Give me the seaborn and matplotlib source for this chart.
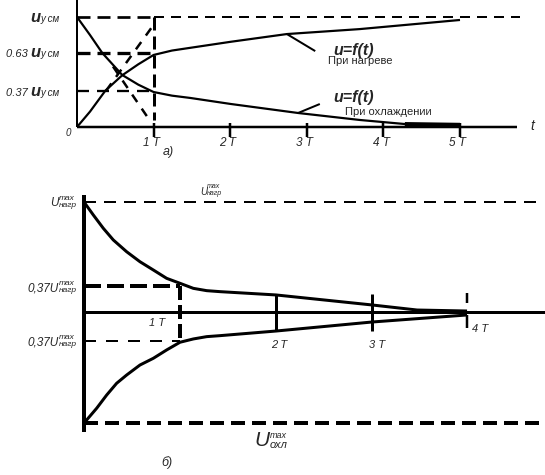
import matplotlib
matplotlib.use("Agg")
import matplotlib.pyplot as plt
import seaborn as sns
from matplotlib.offsetbox import TextArea, HPacker, VPacker, AnnotationBbox

# a) heating / cooling, time in T, value in U_ycm
heat_t = [0, 0.17, 0.37, 0.59, 0.8, 1.0, 1.24, 1.48, 2.01, 2.74, 3.69, 5.0]
heat_u = [0, 0.14, 0.33, 0.47, 0.57, 0.655, 0.695, 0.72, 0.775, 0.845, 0.89, 0.973]
cool_t = [0, 0.17, 0.33, 0.59, 0.8, 1.0, 1.24, 1.48, 2.01, 2.89, 3.69, 4.28, 5.0]
cool_u = [1.0, 0.836, 0.673, 0.473, 0.385, 0.318, 0.285, 0.264, 0.209, 0.127, 0.064, 0.027, 0.018]
levels_a = [1.0, 0.673, 0.327]
level_names_a = ["", "0.63 ", "0.37 "]
ticks_a = [1, 2, 3, 4, 5]

# б) cooling from +U and from -U, time in T
up_t = [0, 0.097, 0.201, 0.305, 0.444, 0.583, 0.722, 0.861, 1.0, 1.139, 1.278,
        1.417, 2.0, 3.0, 3.47, 3.99]
up_u = [1.0, 0.882, 0.761, 0.655, 0.548, 0.457, 0.382, 0.306, 0.261, 0.215, 0.194,
        0.185, 0.155, 0.064, 0.018, 0.009]
low_t = [0, 0.132, 0.236, 0.34, 0.444, 0.583, 0.722, 0.861, 1.0, 1.139, 1.278,
         1.417, 2.0, 3.0, 3.99]
low_u = [-1.01, -0.875, -0.755, -0.648, -0.573, -0.482, -0.421, -0.345, -0.275,
         -0.245, -0.224, -0.215, -0.173, -0.091, -0.027]
levels_b = [1.0, 0.24, -0.26, -1.01]
ticks_b = [2, 3]

sns.set_style("white")
plt.rcParams["font.family"] = ["Liberation Sans", "DejaVu Sans"]
plt.rcParams["lines.scale_dashes"] = False
plt.rcParams["lines.solid_capstyle"] = "butt"
plt.rcParams["lines.dash_capstyle"] = "butt"

PX = 0.72  # px -> pt at 100 dpi


def dash(on, off):
    return (0, (on * PX, off * PX))


def put(ax, xy, parts, align=(1, 0.5), valign="baseline"):
    kids = []
    for p in parts:
        if isinstance(p, tuple) and isinstance(p[0], tuple):
            # stacked sup / sub
            (t1, s1), (t2, s2) = p
            kids.append(VPacker(children=[
                TextArea(t1, textprops=dict(fontsize=s1, style="italic")),
                TextArea(t2, textprops=dict(fontsize=s2, style="italic"))],
                align="left", pad=0, sep=0))
        else:
            txt, props = p
            kids.append(TextArea(txt, textprops=props))
    box = HPacker(children=kids, align=valign, pad=0, sep=0)
    ab = AnnotationBbox(box, xy, xycoords="data", box_alignment=align,
                        frameon=False, pad=0, annotation_clip=False)
    ax.add_artist(ab)


fig = plt.figure(figsize=(5.45, 4.75), dpi=100)

# ---------------- a) ----------------
ax = fig.add_axes([0, 1 - 160 / 475, 1, 160 / 475])
ax.set_xlim(-77 / 76.6, (545 - 77) / 76.6)
ax.set_ylim((127 - 160) / 110, 127 / 110)
ax.set_axis_off()

sns.lineplot(x=heat_t, y=heat_u, ax=ax, color="black", lw=2.2 * PX, sort=False)
sns.lineplot(x=cool_t, y=cool_u, ax=ax, color="black", lw=2.2 * PX, sort=False)
ax.plot([4.28, 5.0], [0.027, 0.02], color="black", lw=4 * PX)

ax.plot([0, 0], [0, 1.155], color="black", lw=2 * PX)
ax.plot([0, 5.74], [0, 0], color="black", lw=2.5 * PX)
for k in ticks_a:
    ax.plot([k, k], [0.036, -0.091], color="black", lw=2.5 * PX)
    ax.text(k - 0.03, -0.145, f"{k} T", style="italic", fontsize=8.5,
            ha="center", va="center")

ax.plot([0, 1], [levels_a[0]] * 2, color="black", lw=2.7 * PX, ls=dash(13, 7))
ax.plot([1, 5.78], [levels_a[0]] * 2, color="black", lw=2 * PX, ls=dash(10, 7))
ax.plot([0, 1], [levels_a[1]] * 2, color="black", lw=3.3 * PX, ls=dash(13, 7))
ax.plot([0, 1], [levels_a[2]] * 2, color="black", lw=2.3 * PX, ls=dash(12, 8))
ax.plot([1, 1], [1.0, 0.06], color="black", lw=3 * PX, ls=dash(13, 6))
# tangents
ax.plot([0.38, 0.97], [0.33, 0.9], color="black", lw=2.5 * PX, ls=dash(9, 8))
ax.plot([0.47, 0.93], [0.55, 0.08], color="black", lw=2.5 * PX, ls=dash(9, 8))

for lv, nm in zip(levels_a, level_names_a):
    parts = []
    if nm:
        parts.append((nm, dict(fontsize=8, style="italic")))
    parts.append(("u", dict(fontsize=12, style="italic", weight="bold")))
    parts.append(("у см", dict(fontsize=7, style="italic")))
    put(ax, (-0.222, lv), parts)

# leaders and curve names
ax.plot([2.74, 3.11], [0.845, 0.69], color="black", lw=2 * PX)
ax.plot([2.885, 3.17], [0.127, 0.209], color="black", lw=2 * PX)
ax.text(3.34, 0.70, "u=f(t)", style="italic", weight="bold", fontsize=11.5,
        ha="left", va="center")
ax.text(3.28, 0.60, "При нагреве", fontsize=8, ha="left", va="center")
ax.text(3.34, 0.264, "u=f(t)", style="italic", weight="bold", fontsize=11.5,
        ha="left", va="center")
ax.text(3.50, 0.136, "При охлаждении", fontsize=8, ha="left", va="center")

ax.text(-0.117, -0.055, "0", style="italic", fontsize=7, ha="center", va="center")
ax.text(5.94, 0.01, "t", style="italic", fontsize=10, ha="center", va="center")
ax.text(1.19, -0.227, "а)", style="italic", fontsize=9, ha="center", va="center")

# ---------------- б) ----------------
bx = fig.add_axes([0, 0, 1, 300 / 475])
bx.set_xlim(-84 / 96, (545 - 84) / 96)
bx.set_ylim((312 - 475) / 110, (312 - 175) / 110)
bx.set_axis_off()

sns.lineplot(x=up_t, y=up_u, ax=bx, color="black", lw=3 * PX, sort=False)
sns.lineplot(x=low_t, y=low_u, ax=bx, color="black", lw=3 * PX, sort=False)

bx.plot([0, 0], [1.064, -1.09], color="black", lw=4 * PX)
bx.plot([0, 4.80], [0, 0], color="black", lw=3 * PX)

bx.plot([0, 4.75], [levels_b[0]] * 2, color="black", lw=2 * PX, ls=dash(12, 8))
bx.plot([0, 1], [levels_b[1]] * 2, color="black", lw=4 * PX, ls=dash(17, 6))
bx.plot([0, 1], [levels_b[2]] * 2, color="black", lw=2 * PX, ls=dash(12, 10))
bx.plot([0, 4.75], [levels_b[3]] * 2, color="black", lw=4 * PX, ls=dash(14, 7))
bx.plot([1, 1], [levels_b[1], levels_b[2]], color="black", lw=4 * PX, ls=dash(14, 5))

for k in ticks_b:
    bx.plot([k, k], [0.16, -0.17], color="black", lw=3 * PX)
bx.plot([3.99, 3.99], [0.173, 0.082], color="black", lw=2.5 * PX)
bx.plot([3.99, 3.99], [-0.027, -0.145], color="black", lw=2.5 * PX)

bx.text(0.76, -0.10, "1 T", style="italic", fontsize=8, ha="center", va="center")
bx.text(2.03, -0.30, "2 T", style="italic", fontsize=8, ha="center", va="center")
bx.text(3.05, -0.30, "3 T", style="italic", fontsize=8, ha="center", va="center")
bx.text(4.125, -0.155, "4 T", style="italic", fontsize=8, ha="center", va="center")

put(bx, (-0.073, 1.0), [("U", dict(fontsize=8.5, style="italic")),
                         (("max", 6), ("нагр", 6))], valign="bottom")
put(bx, (-0.073, 0.227), [("0,37U", dict(fontsize=8.5, style="italic")),
                           (("max", 6), ("нагр", 6))], valign="bottom")
put(bx, (-0.073, -0.264), [("0,37U", dict(fontsize=8.5, style="italic")),
                            (("max", 6), ("нагр", 6))], valign="bottom")
put(bx, (1.21, 1.11), [("U", dict(fontsize=7, style="italic")),
                        (("max", 5), ("нагр", 5))], align=(0, 0.5), valign="bottom")
put(bx, (1.95, -1.17), [("U", dict(fontsize=15, style="italic")),
                         (("max", 6.5), ("охл", 8))], align=(0.5, 0.5), valign="bottom")
bx.text(0.865, -1.37, "б)", style="italic", fontsize=9, ha="center", va="center")

fig.savefig("out.png", dpi=100)
